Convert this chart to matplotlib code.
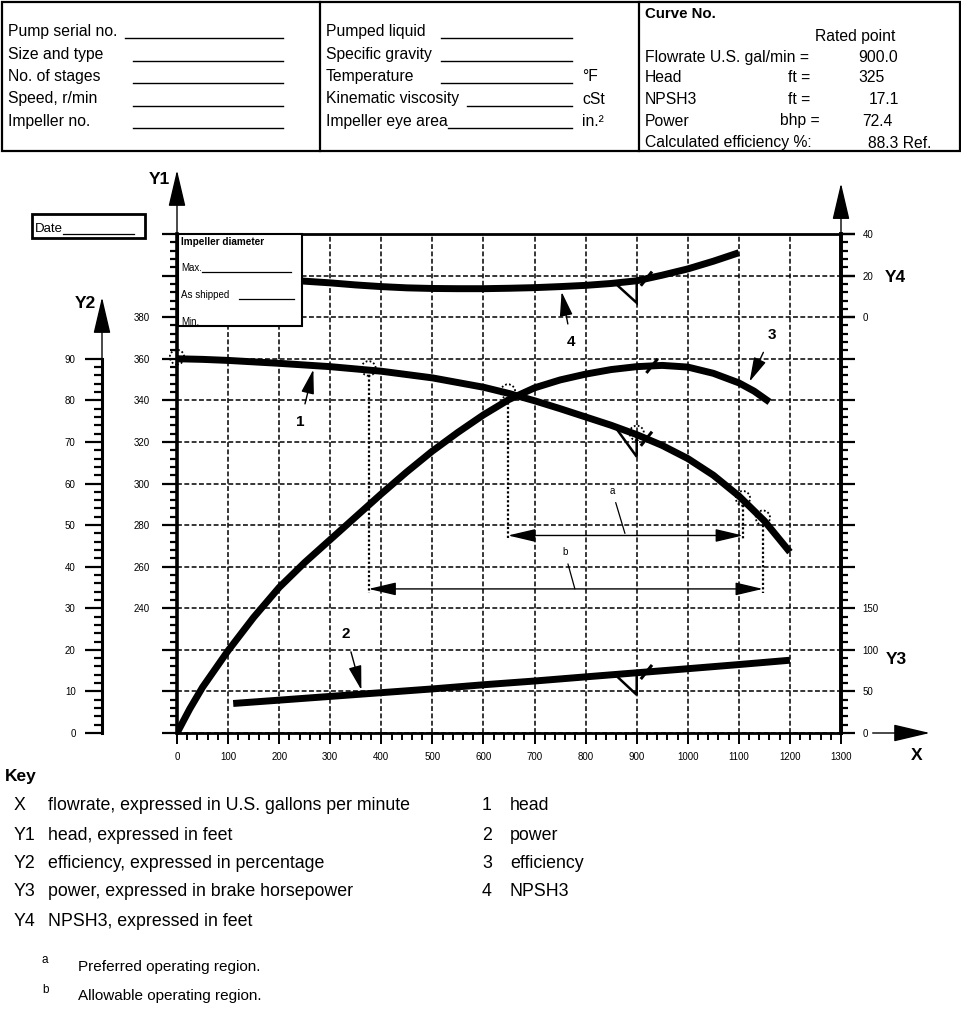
import numpy as np
import matplotlib
matplotlib.use('Agg')
import matplotlib.pyplot as plt
from matplotlib.patches import Rectangle, Polygon, Ellipse
from matplotlib.lines import Line2D
from matplotlib.ticker import MultipleLocator, FixedLocator, FuncFormatter

plt.rcParams['font.family'] = ['Liberation Sans', 'DejaVu Sans']

# ---------------- data ----------------
flow_head = [0, 50, 100, 200, 300, 400, 500, 600, 650, 700, 750, 800, 850, 900, 950, 1000, 1050, 1100, 1150, 1200]
head_ft = [360, 359.7, 359.2, 357.8, 356.2, 354, 350.8, 346.3, 343.3, 339.8, 336, 332, 328, 323.5, 318.3, 312,
           304, 294, 282, 267]

flow_eff = [0, 25, 50, 100, 150, 200, 250, 300, 350, 400, 450, 500, 550, 600, 650, 700, 750, 800, 850, 900, 950,
            1000, 1050, 1100, 1130, 1160]
eff_pct = [0, 5.8, 11, 19.8, 27.8, 35, 41, 46.5, 52, 57.5, 62.8, 67.8, 72.3, 76.5, 80.2, 83, 84.9, 86.3, 87.4, 88.1,
           88.4, 88.0, 86.5, 84.2, 82.2, 79.6]

flow_power = [110, 200, 300, 400, 500, 600, 700, 800, 900, 1000, 1100, 1200]
power_bhp = [35.5, 39.5, 44, 48.5, 53, 58, 62.5, 67.5, 72.4, 77.3, 82.3, 87.5]

flow_npsh = [180, 250, 300, 350, 400, 450, 500, 550, 600, 650, 700, 750, 800, 850, 900, 950, 1000, 1050, 1100]
npsh_ft = [18.8, 17.3, 16.5, 15.5, 14.7, 14.1, 13.8, 13.7, 13.7, 13.9, 14.2, 14.7, 15.3, 16.2, 17.5, 20.2, 23.2,
           26.9, 31.0]

rated_flow = 900
preferred_region = (648, 1108)     # a
allowable_region = (375, 1147)     # b
marked_flows = [0, 375, 648, 900, 1108, 1147]

x_ticks = list(range(0, 1301, 100))
y1_labels = list(range(240, 381, 20))
y2_labels = list(range(0, 91, 10))
y3_labels = [0, 50, 100, 150]
y4_labels = [0, 20, 40]

header_left = ["Pump serial no.", "Size and type", "No. of stages", "Speed, r/min", "Impeller no."]
header_mid = ["Pumped liquid", "Specific gravity", "Temperature", "Kinematic viscosity", "Impeller eye area"]
header_mid_units = ["", "", "°F", "cSt", "in.²"]
rated_names = ["Flowrate U.S. gal/min =", "Head", "NPSH3", "Power", "Calculated efficiency %:"]
rated_units = ["", "ft =", "ft =", "bhp =", ""]
rated_values = ["900.0", "325", "17.1", "72.4", "88.3 Ref."]

key_symbols = ["X", "Y1", "Y2", "Y3", "Y4"]
key_texts = ["flowrate, expressed in U.S. gallons per minute", "head, expressed in feet",
             "efficiency, expressed in percentage", "power, expressed in brake horsepower",
             "NPSH3, expressed in feet"]
curve_numbers = ["1", "2", "3", "4"]
curve_names = ["head", "power", "efficiency", "NPSH3"]

# ---------------- layout ----------------
W, H = 962, 1024
fig = plt.figure(figsize=(W / 100, H / 100), dpi=100)


def fx(x):
    return x / W


def fy(y):
    return 1 - y / H


X0, X1, YT, YB = 177, 841, 234, 733
pos = [fx(X0), fy(YB), (X1 - X0) / W, (YB - YT) / H]
ax = fig.add_axes(pos)
ax.set_xlim(0, 1300)
ax.set_ylim(180, 420)
ax.patch.set_visible(False)

for s in ['left', 'right']:
    ax.spines[s].set_linewidth(2.6)
for s in ['top', 'bottom']:
    ax.spines[s].set_linewidth(2.0)

ax.xaxis.set_major_locator(FixedLocator(x_ticks))
ax.xaxis.set_minor_locator(MultipleLocator(20))
ax.yaxis.set_major_locator(MultipleLocator(20))
ax.yaxis.set_minor_locator(MultipleLocator(4))
ax.yaxis.set_major_formatter(FuncFormatter(lambda v, p: f"{v:.0f}" if round(v) in y1_labels else ""))
ax.tick_params(axis='x', which='major', direction='out', length=8, width=1.4, labelsize=7, pad=5.5)
ax.tick_params(axis='x', which='minor', direction='out', length=5, width=1.4)
ax.tick_params(axis='y', which='major', direction='out', length=11, width=1.6, labelsize=7, pad=8.5)
ax.tick_params(axis='y', which='minor', direction='out', length=5, width=1.6)
ax.grid(True, which='major', color='black', ls=(0, (3.2, 1.6)), lw=1.1)

# efficiency twin
ax_eff = ax.twinx()
ax_eff.set_ylim(0, 120)
ax_eff.axis('off')

# power twin (right axis, Y3 + ticks)
ax_pow = ax.twinx()
ax_pow.set_ylim(0, 600)
for s in ['left', 'top', 'bottom']:
    ax_pow.spines[s].set_visible(False)
ax_pow.spines['right'].set_linewidth(2.6)
ax_pow.yaxis.set_major_locator(MultipleLocator(50))
ax_pow.yaxis.set_minor_locator(MultipleLocator(10))
ax_pow.yaxis.set_major_formatter(FuncFormatter(lambda v, p: f"{v:.0f}" if round(v) in y3_labels else ""))
ax_pow.tick_params(axis='y', which='major', direction='out', length=10, width=1.6, labelsize=7, pad=5.5)
ax_pow.tick_params(axis='y', which='minor', direction='out', length=5, width=1.6)

# NPSH twin (Y4 labels)
ax_npsh = ax.twinx()
ax_npsh.set_ylim(-200, 40)
for s in ax_npsh.spines.values():
    s.set_visible(False)
ax_npsh.yaxis.set_major_locator(FixedLocator(y4_labels))
ax_npsh.tick_params(axis='y', which='major', direction='out', length=10, width=1.6, labelsize=7, pad=5.5)

# Y2 separate axis
ax_y2 = fig.add_axes([fx(102), fy(YB), 0.0001, (YB - YT) / H])
ax_y2.patch.set_visible(False)
for s in ['right', 'top', 'bottom']:
    ax_y2.spines[s].set_visible(False)
ax_y2.spines['left'].set_bounds(0, 90)
ax_y2.spines['left'].set_linewidth(2.2)
ax_y2.set_xticks([])
ax_y2.yaxis.set_major_locator(FixedLocator(y2_labels))
ax_y2.yaxis.set_minor_locator(FixedLocator([v for v in range(0, 91, 2) if v % 10]))
ax_y2.set_ylim(0, 120)
ax_y2.tick_params(axis='y', which='major', direction='out', length=12, width=1.6, labelsize=7, pad=7)
ax_y2.tick_params(axis='y', which='minor', direction='out', length=6, width=1.6)

# ---------------- curves ----------------
LW = 5.0
ax.plot(flow_head, head_ft, color='black', lw=LW, solid_capstyle='butt', solid_joinstyle='round', zorder=3)
ax_eff.plot(flow_eff, eff_pct, color='black', lw=LW, solid_capstyle='butt', solid_joinstyle='round', zorder=3)
ax_pow.plot(flow_power, power_bhp, color='black', lw=LW, solid_capstyle='butt', solid_joinstyle='round', zorder=3)
ax_npsh.plot(flow_npsh, npsh_ft, color='black', lw=LW, solid_capstyle='butt', solid_joinstyle='round', zorder=3)


def rated_marks(a, fxs, fys, unit, tri=True, sx=919):
    y0 = np.interp(rated_flow, fxs, fys)
    if tri:
        yl = np.interp(rated_flow - 45, fxs, fys)
        a.add_patch(Polygon([[rated_flow - 45, yl + 0.03 * unit], [rated_flow, y0],
                             [rated_flow, y0 - 0.53 * unit]], closed=True, fill=False,
                            lw=1.8, ec='black', joinstyle='miter', zorder=4))
    ys = np.interp(sx, fxs, fys)
    a.plot([sx - 11, sx + 11], [ys - 0.17 * unit, ys + 0.17 * unit], color='black', lw=2.2,
           zorder=4, solid_capstyle='butt')


rated_marks(ax, flow_head, head_ft, 20)
rated_marks(ax_pow, flow_power, power_bhp, 50)
rated_marks(ax_npsh, flow_npsh, npsh_ft, 20)
rated_marks(ax_eff, flow_eff, eff_pct, 10, tri=False, sx=930)

# dotted circles on the head curve
for f in marked_flows:
    yh = np.interp(f, flow_head, head_ft)
    ax.add_patch(Ellipse((f, yh + 0.8), 28, 7, fill=False, ls=(0, (1, 1.2)), lw=1.3, ec='black',
                         zorder=4, clip_on=False))

# operating regions
ya, yb = 275, 249.3
for (lo, hi), yarr, ybot in [(preferred_region, ya, 273), (allowable_region, yb, 247.5)]:
    for f in (lo, hi):
        yh = np.interp(f, flow_head, head_ft)
        ax.plot([f, f], [yh - 2.5, ybot], color='black', ls=(0, (1, 1)), lw=1.6, zorder=4)
    ax.annotate('', xy=(hi, yarr), xytext=(lo, yarr),
                arrowprops=dict(arrowstyle='<|-|>,head_length=0.85,head_width=0.2', lw=1.0,
                                color='black', shrinkA=0, shrinkB=0, mutation_scale=20), zorder=5)
ax.annotate('a', xy=(877, 276), xytext=(852, 296.5), fontsize=7, ha='center', va='center',
            arrowprops=dict(arrowstyle='-', lw=0.9, color='black', shrinkA=3, shrinkB=0))
ax.annotate('b', xy=(779, 249.3), xytext=(759, 267), fontsize=7, ha='center', va='center',
            arrowprops=dict(arrowstyle='-', lw=0.9, color='black', shrinkA=3, shrinkB=0))

# curve number labels
lab_arrow = dict(arrowstyle='-|>,head_length=0.75,head_width=0.2', lw=1.0, color='black',
                 shrinkA=6, shrinkB=0, mutation_scale=20)
ax.annotate('1', xy=(267, 354.8), xytext=(242, 329.7), fontsize=11, fontweight='bold',
            ha='center', va='center', arrowprops=lab_arrow, zorder=6)
ax_pow.annotate('2', xy=(361, 51.7), xytext=(331, 119), fontsize=11, fontweight='bold',
                ha='center', va='center', arrowprops=lab_arrow, zorder=6)
ax_eff.annotate('3', xy=(1121, 84.5), xytext=(1164, 95.7), fontsize=11, fontweight='bold',
                ha='center', va='center', arrowprops=lab_arrow, zorder=6)
ax_npsh.annotate('4', xy=(753, 12.2), xytext=(772, -11.9), fontsize=11, fontweight='bold',
                 ha='center', va='center', arrowprops=lab_arrow, zorder=6)

# axis arrows
ax_arrow = dict(arrowstyle='-|>,head_length=1.15,head_width=0.27', lw=1.0, color='black',
                shrinkA=0, shrinkB=0, mutation_scale=20)
ax.annotate('', xy=(0, 450.7), xytext=(0, 420), arrowprops=ax_arrow, annotation_clip=False)
ax.annotate('', xy=(1300, 444.4), xytext=(1300, 420), arrowprops=ax_arrow, annotation_clip=False)
ax.annotate('', xy=(1474, 180), xytext=(1362, 180), arrowprops=ax_arrow, annotation_clip=False)
ax_y2.annotate('', xy=(0, 104.8), xytext=(0, 90), xycoords=ax_y2.get_yaxis_transform(),
               textcoords=ax_y2.get_yaxis_transform(), arrowprops=ax_arrow, annotation_clip=False)

for t, x, y in [("Y1", 159, 180), ("Y2", 85, 304), ("Y4", 895, 277), ("Y3", 896, 659), ("X", 917, 756)]:
    fig.text(fx(x), fy(y), t, fontsize=12.5, fontweight='bold', ha='center', va='center')

# ---------------- impeller box & date box ----------------
fig.add_artist(Rectangle((fx(178), fy(326)), (302 - 178) / W, (326 - 234) / H, transform=fig.transFigure,
                         fc='white', ec='black', lw=1.5, zorder=10))
fig.text(fx(181), fy(242), "Impeller diameter", fontsize=7.2, fontweight='bold', va='center', zorder=11)
fig.text(fx(181), fy(268), "Max.", fontsize=7, va='center', zorder=11)
fig.text(fx(181), fy(295), "As shipped", fontsize=7, va='center', zorder=11)
fig.text(fx(181), fy(322), "Min.", fontsize=7, va='center', zorder=11)
for x0, x1, y in [(202, 291, 272), (239, 294, 299)]:
    fig.add_artist(Line2D([fx(x0), fx(x1)], [fy(y), fy(y)], transform=fig.transFigure, color='black',
                          lw=0.9, zorder=11))

fig.add_artist(Rectangle((fx(32), fy(238)), (145 - 32) / W, (238 - 214) / H, transform=fig.transFigure,
                         fc='none', ec='black', lw=2.0, zorder=10))
fig.text(fx(35), fy(229), "Date", fontsize=9.5, va='center', zorder=11)
fig.add_artist(Line2D([fx(63), fx(134)], [fy(234), fy(234)], transform=fig.transFigure, color='black',
                      lw=0.9, zorder=11))

# ---------------- header table ----------------
HF = 11.3
fig.add_artist(Rectangle((fx(2), fy(151)), (960 - 2) / W, (151 - 2) / H, transform=fig.transFigure,
                         fc='none', ec='black', lw=1.6, zorder=10))
for xv in (320, 639):
    fig.add_artist(Line2D([fx(xv), fx(xv)], [fy(2), fy(151)], transform=fig.transFigure, color='black',
                          lw=1.6, zorder=10))
rows_y = [31.5, 54, 76.5, 99, 121.5]
left_line_start = [125, 133, 133, 133, 133]
mid_line_start = [441, 441, 441, 467, 448]
for i, y in enumerate(rows_y):
    fig.text(fx(8), fy(y), header_left[i], fontsize=HF, va='center')
    fig.add_artist(Line2D([fx(left_line_start[i]), fx(283)], [fy(y + 6.5), fy(y + 6.5)],
                          transform=fig.transFigure, color='black', lw=1.0))
    fig.text(fx(326), fy(y), header_mid[i], fontsize=HF, va='center')
    fig.add_artist(Line2D([fx(mid_line_start[i]), fx(572)], [fy(y + 6.5), fy(y + 6.5)],
                          transform=fig.transFigure, color='black', lw=1.0))
    if header_mid_units[i]:
        fig.text(fx(582), fy(y), header_mid_units[i], fontsize=HF, va='center')

fig.text(fx(645), fy(14), "Curve No.", fontsize=10.8, fontweight='bold', va='center')
fig.text(fx(855), fy(36), "Rated point", fontsize=HF, va='center', ha='center')
r_y = [57.5, 77, 99, 121, 143]
val_x = [858, 858, 869, 862, 868]
unit_x = [0, 788, 788, 780, 0]
for i, y in enumerate(r_y):
    fig.text(fx(645), fy(y), rated_names[i], fontsize=HF, va='center')
    if rated_units[i]:
        fig.text(fx(unit_x[i]), fy(y), rated_units[i], fontsize=HF, va='center')
    fig.text(fx(val_x[i]), fy(y), rated_values[i], fontsize=HF, va='center')

# ---------------- key ----------------
KF = 12.8
fig.text(fx(5), fy(776), "Key", fontsize=12.5, fontweight='bold', va='center')
key_y = [806, 835, 864, 892, 921]
for i, y in enumerate(key_y):
    fig.text(fx(14), fy(y), key_symbols[i], fontsize=KF, va='center')
    fig.text(fx(48), fy(y), key_texts[i], fontsize=KF, va='center')
for i in range(4):
    fig.text(fx(482), fy(key_y[i]), curve_numbers[i], fontsize=KF, va='center')
    fig.text(fx(510), fy(key_y[i]), curve_names[i], fontsize=KF, va='center')
fig.text(fx(42), fy(960), "a", fontsize=8.5, va='center')
fig.text(fx(78), fy(967), "Preferred operating region.", fontsize=11, va='center')
fig.text(fx(42), fy(990), "b", fontsize=8.5, va='center')
fig.text(fx(78), fy(996), "Allowable operating region.", fontsize=11, va='center')

fig.savefig('out.png', dpi=100)
